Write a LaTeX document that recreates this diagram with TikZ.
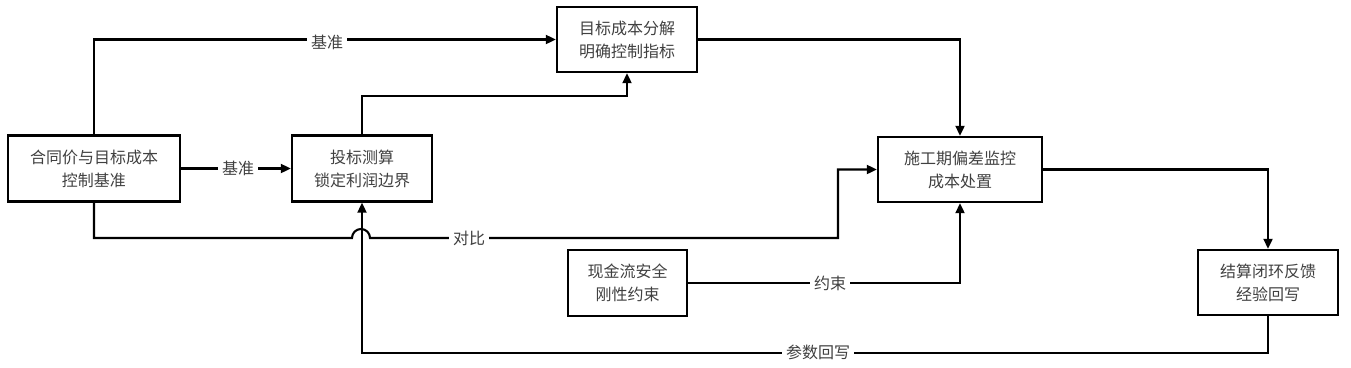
\documentclass[tikz,border=0pt]{standalone}
\usepackage{fontspec}
\setmainfont{Noto Sans CJK SC}
\usetikzlibrary{positioning,arrows.meta,calc}

\begin{document}
\begin{tikzpicture}[x=1pt, y=-1pt,
  box/.style={draw, line width=2.4pt, minimum height=66pt, align=center,
              inner sep=2pt, font=\fontsize{16}{23}\selectfont, text=black!75},
  lbl/.style={fill=white, inner sep=4pt, font=\fontsize{16}{20}\selectfont, text=black!75},
  link/.style={line width=2.1pt},
  >={Triangle[length=10pt,width=9pt]}
]
\useasboundingbox (0,0) rectangle (1351,367);

% Boxes
\node[box, minimum width=172pt] (base) at (94,168.5) {合同价与目标成本\\控制基准};
\node[box, minimum width=140pt] (bid) at (362,168.5) {投标测算\\锁定利润边界};
\node[box, minimum width=140pt, minimum height=65pt] (target) at (627,39.5) {目标成本分解\\明确控制指标};
\node[box, minimum width=164pt, minimum height=65pt] (monitor) at (960,169.5) {施工期偏差监控\\成本处置};
\node[box, minimum width=119pt] (cash) at (627.5,283) {现金流安全\\刚性约束};
\node[box, minimum width=140pt, minimum height=65pt] (settle) at (1268,282.5) {结算闭环反馈\\经验回写};

% Helper points
\coordinate (hopL) at (352,238);
\coordinate (cmpturn) at (838,238);
\coordinate (bidturn) at ($(bid.north)+(0,-38)$);
\coordinate (backturn) at ($(settle.south)+(0,37)$);

% Arrows
\draw[->, link] (base.north) |- (target.west);
\draw[->, link] (base.east) -- (bid.west);
\draw[->, link] (bid.north) -- (bidturn) -| (target.south);
\draw[->, link] (target.east) -| (monitor.north);
\draw[->, link] (base.south) |- (hopL) arc[start angle=180, end angle=360, radius=9]
  -- (cmpturn) |- (monitor.west);
\draw[->, link] (cash.east) -| (monitor.south);
\draw[->, link] (monitor.east) -| (settle.north);
\draw[->, link] (settle.south) -- (backturn) -| (bid.south);

% Labels
\node[lbl] (lbTop) at (327,42) {基准};
\node[lbl] (lbMid) at (238,168.5) {基准};
\node[lbl] (lbCmp) at (469,238) {对比};
\node[lbl] (lbCash) at (830,283) {约束};
\node[lbl] (lbBack) at (818,352) {参数回写};

\end{tikzpicture}
\end{document}
